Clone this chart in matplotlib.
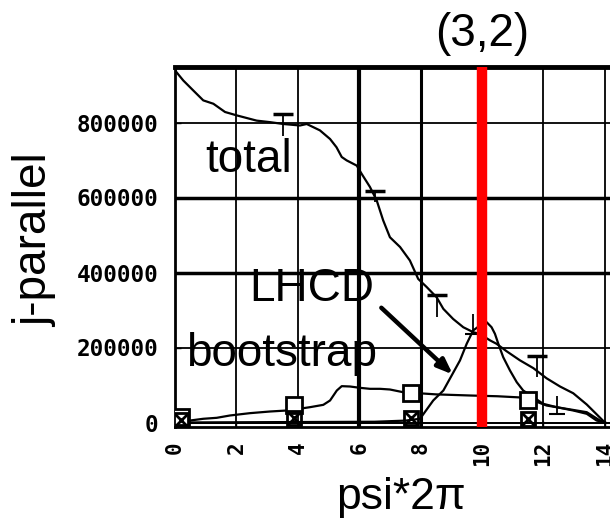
import matplotlib
matplotlib.use("Agg")
import matplotlib.pyplot as plt
import numpy as np

# ---- data ----
total_x = [0.0, 0.05, 0.27, 0.60, 0.92, 1.25, 1.63, 2.01, 2.66, 3.09, 3.53, 4.07, 4.29, 4.72,
           5.05, 5.26, 5.43, 5.59, 5.92, 6.08, 6.35, 6.57, 6.78, 7.00, 7.33, 7.65, 7.92, 8.20,
           8.52, 8.74, 9.06, 9.39, 9.71, 9.93, 10.26, 10.47, 10.80, 11.23, 11.67, 12.10, 12.54,
           12.97, 13.41, 13.73, 14.0]
total_y = [940000, 934000, 912000, 885000, 859000, 850000, 828000, 819000, 805000, 801000,
           796000, 792000, 796000, 779000, 756000, 734000, 708000, 699000, 685000, 663000,
           628000, 592000, 539000, 494000, 468000, 432000, 383000, 361000, 334000, 303000,
           276000, 254000, 241000, 236000, 219000, 210000, 190000, 166000, 145000, 118000,
           96000, 78000, 48000, 22000, 0]

lhcd_x = [0.0, 6.5, 7.5, 7.98, 8.41, 8.74, 9.01, 9.28, 9.50, 9.71, 9.93, 10.15, 10.31, 10.42,
          10.53, 10.69, 10.91, 11.13, 11.34, 11.67, 11.99, 12.43, 12.97, 13.41, 13.73, 14.0]
lhcd_y = [0, 2000, 5000, 9900, 58700, 85300, 125300, 165300, 209900, 245300, 258700, 267500,
          254100, 236500, 209900, 174100, 138700, 107500, 85300, 67500, 49900, 40800, 32000,
          23200, 5300, 0]

boot_x = [0.0, 0.49, 0.92, 1.36, 1.79, 2.44, 3.09, 3.64, 4.18, 4.40, 4.83, 5.05, 5.27, 5.43,
          5.70, 6.02, 6.35, 6.68, 7.00, 7.43, 8.5, 9.61, 10.5, 11.2, 11.67, 12.10, 12.75,
          13.41, 13.84, 14.0]
boot_y = [5300, 5300, 9900, 12500, 18700, 24900, 29300, 32000, 38200, 40900, 47100, 58700,
          85300, 96900, 96000, 92500, 89800, 89800, 88000, 80800, 75000, 72000, 70000, 67000,
          58700, 45300, 36500, 27500, 5300, 0]

total_err_x = [3.53, 6.51, 8.52, 11.78]
total_err_top = [823000, 617000, 339000, 177000]
total_err_bot = [765000, 588000, 281000, 121000]

lhcd_err_x = [9.71, 12.43]
lhcd_err_top = [290000, 72000]
lhcd_err_bot = [237000, 24000]

boot_mark_x = [0.2, 3.89, 7.67, 11.51]
boot_mark_y = [14000, 48000, 78700, 60000]
low_mark_y = [6000, 12000, 10700, 9300]

xticks = [0, 2, 4, 6, 8, 10, 12, 14]
yticks = [0, 200000, 400000, 600000, 800000]
ytick_labels = ["0", "200000", "400000", "600000", "800000"]

# ---- figure ----
W, H = 610, 522
fig = plt.figure(figsize=(W / 100, H / 100), dpi=100)
left, right, top, bottom = 175, 611, 67, 427
ax = fig.add_axes([left / W, 1 - bottom / H, (right - left) / W, (bottom - top) / H])

ax.set_xlim(0, 14.2)
ax.set_ylim(-12000, 948000)

ax.set_xticks(xticks)
ax.set_xticklabels([str(t) for t in xticks], rotation=90, fontfamily="DejaVu Sans Mono",
                   fontweight="bold", fontsize=15)
ax.set_yticks(yticks)
ax.set_yticklabels(ytick_labels, fontfamily="DejaVu Sans Mono", fontweight="bold", fontsize=16.3)
ax.tick_params(axis="both", direction="in", length=4, width=1, colors="black")
ax.tick_params(axis="x", pad=10)
ax.tick_params(axis="y", pad=12)

ax.grid(True, color="black", linewidth=1.3)
for i, gl in enumerate(ax.xaxis.get_gridlines()):
    if xticks[i] == 6:
        gl.set_linewidth(3.0)
    elif xticks[i] == 8:
        gl.set_linewidth(2.2)
for i, gl in enumerate(ax.yaxis.get_gridlines()):
    if yticks[i] in (400000, 600000):
        gl.set_linewidth(2.5)
ax.set_axisbelow(True)

for s in ("left", "bottom"):
    ax.spines[s].set_linewidth(2)
ax.spines["top"].set_linewidth(3.5)
ax.spines["right"].set_visible(False)

ax.axhline(0, color="black", lw=1.3, zorder=1)

# curves
ax.plot(total_x, total_y, color="black", lw=1.6, zorder=3)
ax.plot(lhcd_x, lhcd_y, color="black", lw=1.6, zorder=3)
ax.plot(boot_x, boot_y, color="black", lw=1.6, zorder=3)

# error bars
ax.vlines(total_err_x, total_err_bot, total_err_top, color="black", lw=1.3, zorder=3)
ax.plot(total_err_x, total_err_top, ls="none", marker="_", ms=14, mew=2.5, color="black", zorder=3)
ax.vlines(lhcd_err_x, lhcd_err_bot, lhcd_err_top, color="black", lw=1.3, zorder=3)
ax.plot(lhcd_err_x, lhcd_err_bot, ls="none", marker="_", ms=12, mew=1.5, color="black", zorder=3)

# markers
ax.plot(boot_mark_x, boot_mark_y, ls="none", marker="s", ms=11, mfc="white", mec="black",
        mew=2, zorder=4)
ax.plot(boot_mark_x, low_mark_y, ls="none", marker="s", ms=10, mfc="none", mec="black",
        mew=2, zorder=4)
ax.plot(boot_mark_x, low_mark_y, ls="none", marker="x", ms=8, mec="black", mew=2, zorder=4)

# red line
ax.axvline(10, color="#ff0000", lw=7.5, zorder=5)

# texts
txtfont = "Liberation Sans"
ax.text(0.98, 700000, "total", fontsize=33, family=txtfont, va="center", ha="left", zorder=6)
ax.text(2.42, 357000, "LHCD", fontsize=33, family=txtfont, va="center", ha="left", zorder=6)
ax.text(0.36, 182000, "bootstrap", fontsize=33, family=txtfont, va="center", ha="left", zorder=6)
ax.annotate("", xy=(9.05, 128000), xytext=(6.72, 306000),
            arrowprops=dict(arrowstyle="-|>,head_length=0.9,head_width=0.35", lw=3.2,
                            color="black", shrinkA=0, shrinkB=0), zorder=6)

ax.text(10, 1.03, "(3,2)", transform=ax.get_xaxis_transform(), fontsize=33, family=txtfont,
        ha="center", va="bottom")

ax.set_xlabel("psi*2π", fontsize=32, family=txtfont)
ax.xaxis.set_label_coords((401 - left) / (right - left), -(498 - bottom) / (bottom - top),
                          transform=ax.transAxes)
ax.xaxis.label.set_va("center")
ax.set_ylabel("j-parallel", fontsize=33, family=txtfont)
ax.yaxis.set_label_coords(-(left - 35) / (right - left), 0.5 + (247 - 240) / (bottom - top))
ax.yaxis.label.set_va("center")

fig.savefig("out.png", dpi=100)
